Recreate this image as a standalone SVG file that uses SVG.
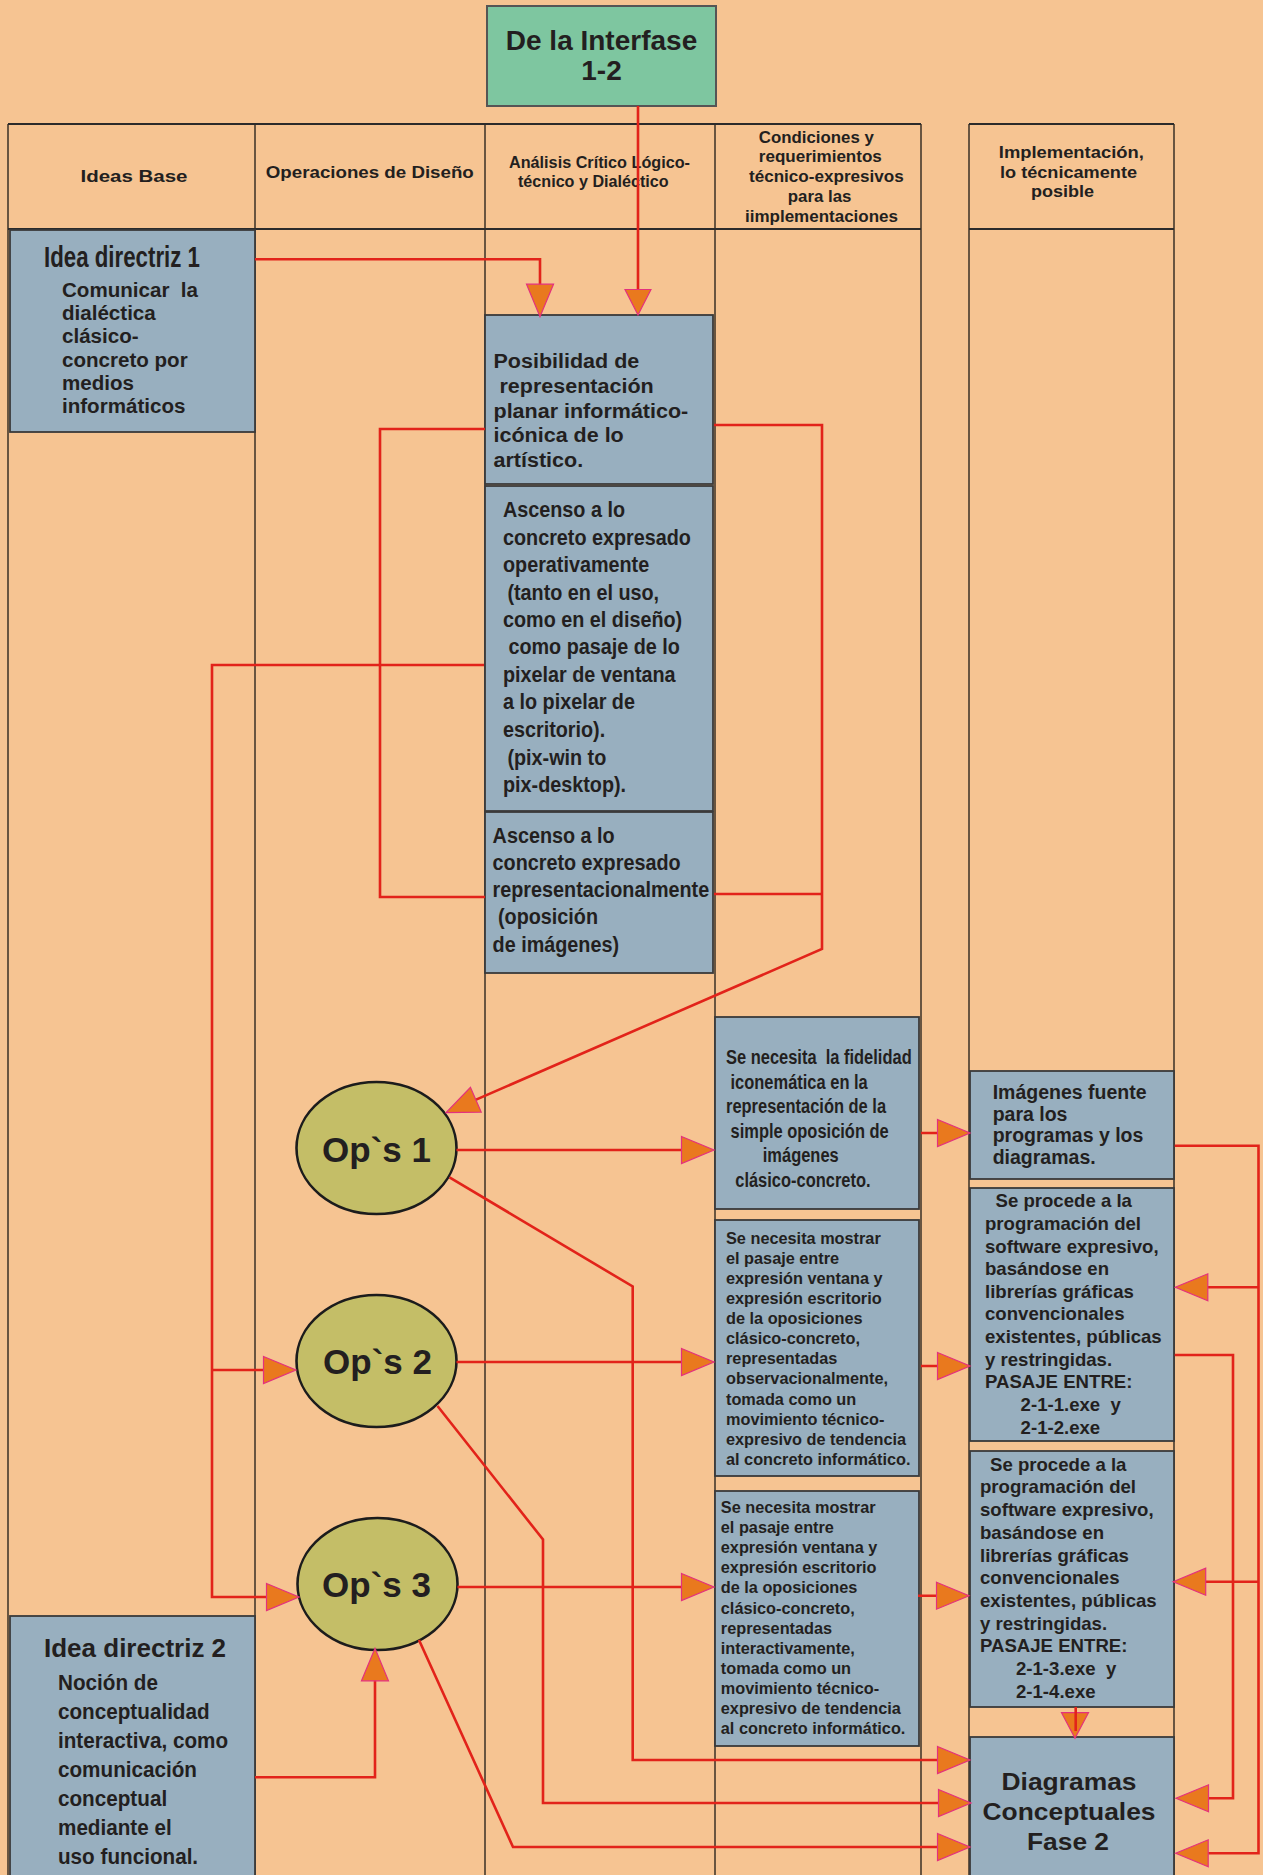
<svg xmlns="http://www.w3.org/2000/svg" width="1263" height="1875" viewBox="0 0 1263 1875">
  <style>
    text { font-family: "Liberation Sans", Arial, "Noto Sans", sans-serif; font-weight: bold; fill: #231F20; }
    .col { stroke: #3b3026; stroke-width: 1.5; fill: none; }
    .hdr { stroke: #2b2b2b; stroke-width: 2; fill: none; }
    .box { fill: #98AFBF; stroke: #3a3a3a; stroke-width: 1.8; }
    .top { fill: #7EC6A0; stroke: #555; stroke-width: 2; }
    .op { fill: #C4BE67; stroke: #1c1c1c; stroke-width: 2.6; }
    .ln { fill: none; stroke: #E2231A; stroke-width: 2.6; }
    .head { font-size: 16px; }
    .t20 { font-size: 20.5px; }
    .t22 { font-size: 22px; }
    .t196 { font-size: 19.6px; }
    .t163 { font-size: 16.3px; }
    .t186 { font-size: 18.6px; }
    .ops { font-size: 35px; text-anchor: middle; }
  </style>
  <defs>
    <marker id="ah" markerUnits="userSpaceOnUse" markerWidth="40" markerHeight="32" refX="29" refY="14" orient="auto" overflow="visible">
      <path d="M0.5,0.5 L33,14 L0.5,27.5 Z" fill="#E9791E" stroke="#E4307E" stroke-width="1.2"/>
    </marker>
    <marker id="ahS" markerUnits="userSpaceOnUse" markerWidth="32" markerHeight="32" refX="22" refY="13.5" orient="auto" overflow="visible">
      <path d="M0.5,0.5 L26,13.5 L0.5,26.5 Z" fill="#E9791E" stroke="#E4307E" stroke-width="1.2"/>
    </marker>
  </defs>

  <!-- background -->
  <rect x="0" y="0" width="1263" height="1875" fill="#F6C492"/>

  <!-- swimlane grid -->
  <g id="lanes">
    <path class="col" d="M8,124 V1875 M255,124 V1875 M485,124 V1875 M715,124 V1875 M921,124 V1875"/>
    <path class="col" d="M969,124 V1875 M1174,124 V1875"/>
    <path class="hdr" d="M8,124 H921 M8,229 H921 M969,124 H1174 M969,229 H1174"/>
    <text class="head" x="80.5" y="181.7" font-size="18" textLength="107" lengthAdjust="spacingAndGlyphs">Ideas Base</text>
    <text class="head" x="265.8" y="177.5" font-size="18" textLength="208" lengthAdjust="spacingAndGlyphs">Operaciones de Diseño</text>
    <text class="head" x="509" y="167.7" textLength="181" lengthAdjust="spacingAndGlyphs">Análisis Crítico Lógico-</text>
    <text class="head" x="518" y="186.7" textLength="150.6" lengthAdjust="spacingAndGlyphs">técnico y Dialéctico</text>
    <text class="head" x="758.8" y="143.3" textLength="115" lengthAdjust="spacingAndGlyphs">Condiciones y</text>
    <text class="head" x="758.8" y="162" textLength="123" lengthAdjust="spacingAndGlyphs">requerimientos</text>
    <text class="head" x="749" y="181.7" textLength="154.7" lengthAdjust="spacingAndGlyphs">técnico-expresivos</text>
    <text class="head" x="787.8" y="201.7" textLength="63.6" lengthAdjust="spacingAndGlyphs">para las</text>
    <text class="head" x="745" y="221.7" textLength="153" lengthAdjust="spacingAndGlyphs">iimplementaciones</text>
    <text class="head" x="998.8" y="157.7" textLength="145" lengthAdjust="spacingAndGlyphs">Implementación,</text>
    <text class="head" x="1000" y="177.7" textLength="137" lengthAdjust="spacingAndGlyphs">lo técnicamente</text>
    <text class="head" x="1031" y="196.7" textLength="63" lengthAdjust="spacingAndGlyphs">posible</text>
  </g>

  <!-- nodes -->
  <g id="interfase">
    <rect class="top" x="487" y="6" width="229" height="100"/>
    <text x="601.5" y="50" font-size="28" text-anchor="middle">De la Interfase</text>
    <text x="601.5" y="80" font-size="28" text-anchor="middle">1-2</text>
  </g>

  <g id="idea1">
    <rect class="box" x="10" y="230" width="245" height="202"/>
    <text x="44" y="266.7" font-size="30" textLength="156" lengthAdjust="spacingAndGlyphs">Idea directriz 1</text>
    <g transform="matrix(1.05 0 0 1 -3.1 0)">
      <text class="t196">
        <tspan x="62" y="297.3">Comunicar&#160; la</tspan>
        <tspan x="62" y="320.4">dialéctica</tspan>
        <tspan x="62" y="343.5">clásico-</tspan>
        <tspan x="62" y="366.6">concreto por</tspan>
        <tspan x="62" y="389.7">medios</tspan>
        <tspan x="62" y="412.8">informáticos</tspan>
      </text>
    </g>
  </g>

  <g id="posibilidad">
    <rect class="box" x="485" y="315" width="228" height="169"/>
    <g transform="matrix(1.05 0 0 1 -24.675 0)">
      <text class="t20">
        <tspan x="493.5" y="368.3">Posibilidad de</tspan>
        <tspan x="499.2" y="393">representación</tspan>
        <tspan x="493.5" y="417.7">planar informático-</tspan>
        <tspan x="493.5" y="442.3">icónica de lo</tspan>
        <tspan x="493.5" y="467">artístico.</tspan>
      </text>
    </g>
  </g>

  <g id="ascenso-operativo">
    <rect class="box" x="485" y="486" width="228" height="325"/>
    <g transform="matrix(0.9 0 0 1 50.3 0)">
      <text class="t22">
        <tspan x="503" y="517.3">Ascenso a lo</tspan>
        <tspan x="503" y="545">concreto expresado</tspan>
        <tspan x="503" y="572.2">operativamente</tspan>
        <tspan x="507.9" y="599.7">(tanto en el uso,</tspan>
        <tspan x="503" y="626.7">como en el diseño)</tspan>
        <tspan x="509" y="654.3">como pasaje de lo</tspan>
        <tspan x="503" y="682">pixelar de ventana</tspan>
        <tspan x="503" y="709.3">a lo pixelar de</tspan>
        <tspan x="503" y="737">escritorio).</tspan>
        <tspan x="507.9" y="764.7">(pix-win to</tspan>
        <tspan x="503" y="792">pix-desktop).</tspan>
      </text>
    </g>
  </g>

  <g id="ascenso-representacional">
    <rect class="box" x="485" y="812" width="228" height="161"/>
    <g transform="matrix(0.9 0 0 1 49.26 0)">
      <text class="t22">
        <tspan x="492.6" y="842.7">Ascenso a lo</tspan>
        <tspan x="492.6" y="870">concreto expresado</tspan>
        <tspan x="492.6" y="896.7">representacionalmente</tspan>
        <tspan x="498.6" y="924.3">(oposición</tspan>
        <tspan x="492.6" y="951.7">de imágenes)</tspan>
      </text>
    </g>
  </g>

  <g id="ops1">
    <ellipse class="op" cx="376.5" cy="1148" rx="80" ry="66"/>
    <text class="ops" x="376.5" y="1162">Op`s 1</text>
  </g>
  <g id="ops2">
    <ellipse class="op" cx="376.5" cy="1361" rx="80" ry="66"/>
    <text class="ops" x="377.5" y="1374">Op`s 2</text>
  </g>
  <g id="ops3">
    <ellipse class="op" cx="377.5" cy="1584" rx="80" ry="66"/>
    <text class="ops" x="376.5" y="1597">Op`s 3</text>
  </g>

  <g id="fidelidad">
    <rect class="box" x="715" y="1017" width="204" height="192"/>
    <g transform="matrix(0.84 0 0 1 116.16 0)">
      <text class="t196">
        <tspan x="726" y="1064">Se necesita&#160; la fidelidad</tspan>
        <tspan x="731.4" y="1088.7">iconemática en la</tspan>
        <tspan x="726" y="1113.3">representación de la</tspan>
        <tspan x="731.4" y="1137.7">simple oposición de</tspan>
        <tspan x="769.8" y="1162.3">imágenes</tspan>
        <tspan x="737" y="1186.7">clásico-concreto.</tspan>
      </text>
    </g>
  </g>

  <g id="pasaje-observacional">
    <rect class="box" x="715" y="1220" width="204" height="256"/>
    <text class="t163">
      <tspan x="726" y="1244">Se necesita mostrar</tspan>
      <tspan x="726" y="1264">el pasaje entre</tspan>
      <tspan x="726" y="1284.1">expresión ventana y</tspan>
      <tspan x="726" y="1304.2">expresión escritorio</tspan>
      <tspan x="726" y="1324.2">de la oposiciones</tspan>
      <tspan x="726" y="1344.3">clásico-concreto,</tspan>
      <tspan x="726" y="1364.4">representadas</tspan>
      <tspan x="726" y="1384.4">observacionalmente,</tspan>
      <tspan x="726" y="1404.5">tomada como un</tspan>
      <tspan x="726" y="1424.5">movimiento técnico-</tspan>
      <tspan x="726" y="1444.6">expresivo de tendencia</tspan>
      <tspan x="726" y="1464.7">al concreto informático.</tspan>
    </text>
  </g>

  <g id="pasaje-interactivo">
    <rect class="box" x="715" y="1491" width="204" height="255"/>
    <text class="t163">
      <tspan x="720.8" y="1512.7">Se necesita mostrar</tspan>
      <tspan x="720.8" y="1532.9">el pasaje entre</tspan>
      <tspan x="720.8" y="1553">expresión ventana y</tspan>
      <tspan x="720.8" y="1573.2">expresión escritorio</tspan>
      <tspan x="720.8" y="1593.3">de la oposiciones</tspan>
      <tspan x="720.8" y="1613.5">clásico-concreto,</tspan>
      <tspan x="720.8" y="1633.6">representadas</tspan>
      <tspan x="720.8" y="1653.8">interactivamente,</tspan>
      <tspan x="720.8" y="1673.9">tomada como un</tspan>
      <tspan x="720.8" y="1694.1">movimiento técnico-</tspan>
      <tspan x="720.8" y="1714.2">expresivo de tendencia</tspan>
      <tspan x="720.8" y="1734.4">al concreto informático.</tspan>
    </text>
  </g>

  <g id="imagenes-fuente">
    <rect class="box" x="970" y="1071" width="204" height="108"/>
    <text font-size="19.5">
      <tspan x="992.7" y="1099">Imágenes fuente</tspan>
      <tspan x="992.7" y="1120.7">para los</tspan>
      <tspan x="992.7" y="1142.4">programas y los</tspan>
      <tspan x="992.7" y="1164">diagramas.</tspan>
    </text>
  </g>

  <g id="programacion-1">
    <rect class="box" x="970" y="1188" width="204" height="253"/>
    <text class="t186">
      <tspan x="995.5" y="1207.3">Se procede a la</tspan>
      <tspan x="985" y="1230">programación del</tspan>
      <tspan x="985" y="1252.6">software expresivo,</tspan>
      <tspan x="985" y="1275.2">basándose en</tspan>
      <tspan x="985" y="1297.8">librerías gráficas</tspan>
      <tspan x="985" y="1320.4">convencionales</tspan>
      <tspan x="985" y="1343">existentes, públicas</tspan>
      <tspan x="985" y="1365.6">y restringidas.</tspan>
      <tspan x="985" y="1388.2">PASAJE ENTRE:</tspan>
      <tspan x="1020.6" y="1411">2-1-1.exe&#160; y</tspan>
      <tspan x="1020.6" y="1433.5">2-1-2.exe</tspan>
    </text>
  </g>

  <g id="programacion-2">
    <rect class="box" x="970" y="1451" width="204" height="256"/>
    <text class="t186">
      <tspan x="990" y="1470.7">Se procede a la</tspan>
      <tspan x="980" y="1493.4">programación del</tspan>
      <tspan x="980" y="1516.1">software expresivo,</tspan>
      <tspan x="980" y="1538.8">basándose en</tspan>
      <tspan x="980" y="1561.5">librerías gráficas</tspan>
      <tspan x="980" y="1584.2">convencionales</tspan>
      <tspan x="980" y="1606.9">existentes, públicas</tspan>
      <tspan x="980" y="1629.6">y restringidas.</tspan>
      <tspan x="980" y="1652.3">PASAJE ENTRE:</tspan>
      <tspan x="1016" y="1675">2-1-3.exe&#160; y</tspan>
      <tspan x="1016" y="1697.7">2-1-4.exe</tspan>
    </text>
  </g>

  <g id="diagramas">
    <rect class="box" x="970" y="1737" width="204" height="150"/>
    <text x="1069" y="1790" font-size="24" text-anchor="middle" textLength="135" lengthAdjust="spacingAndGlyphs">Diagramas</text>
    <text x="1069" y="1820" font-size="24" text-anchor="middle" textLength="173" lengthAdjust="spacingAndGlyphs">Conceptuales</text>
    <text x="1068" y="1850" font-size="24" text-anchor="middle" textLength="82" lengthAdjust="spacingAndGlyphs">Fase 2</text>
  </g>

  <g id="idea2">
    <rect class="box" x="10" y="1616" width="245" height="270"/>
    <text x="44" y="1657" font-size="26">Idea directriz 2</text>
    <g transform="matrix(0.94 0 0 1 3.48 0)">
      <text class="t22">
        <tspan x="58" y="1690">Noción de</tspan>
        <tspan x="58" y="1719">conceptualidad</tspan>
        <tspan x="58" y="1748">interactiva, como</tspan>
        <tspan x="58" y="1777">comunicación</tspan>
        <tspan x="58" y="1806">conceptual</tspan>
        <tspan x="58" y="1835">mediante el</tspan>
        <tspan x="58" y="1864">uso funcional.</tspan>
      </text>
    </g>
  </g>

  <!-- connectors -->
  <g id="connectors">
    <path class="ln" d="M255,259.3 H540 V312.7" marker-end="url(#ah)"/>
    <path class="ln" d="M638,106 V311" marker-end="url(#ahS)"/>
    <path class="ln" d="M485,429 H380 V897 H485"/>
    <path class="ln" d="M484,665 H212 V1597 H295" marker-end="url(#ah)"/>
    <path class="ln" d="M212,1370 H292" marker-end="url(#ah)"/>
    <path class="ln" d="M714,425 H822 V949 L449.7,1111.1" marker-end="url(#ah)"/>
    <path class="ln" d="M714,894 H822"/>
    <path class="ln" d="M456.5,1150 H710" marker-end="url(#ah)"/>
    <path class="ln" d="M456.5,1362 H710" marker-end="url(#ah)"/>
    <path class="ln" d="M457.5,1587 H710" marker-end="url(#ah)"/>
    <path class="ln" d="M449.5,1177.3 L632.7,1286.5 V1760 H966" marker-end="url(#ah)"/>
    <path class="ln" d="M437.5,1406 L543,1539.5 V1803 H967" marker-end="url(#ah)"/>
    <path class="ln" d="M419,1640 L513,1847 H966" marker-end="url(#ah)"/>
    <path class="ln" d="M255,1777.3 H375 V1652.3" marker-end="url(#ah)"/>
    <path class="ln" d="M921,1133 H966" marker-end="url(#ah)"/>
    <path class="ln" d="M921,1366 H966" marker-end="url(#ah)"/>
    <path class="ln" d="M918,1595.7 H965" marker-end="url(#ah)"/>
    <path class="ln" d="M1174.7,1145.7 H1258.5 V1853.3 H1179.7" marker-end="url(#ah)"/>
    <path class="ln" d="M1258.5,1287.3 H1179.3" marker-end="url(#ah)"/>
    <path class="ln" d="M1258.5,1581.7 H1177.2" marker-end="url(#ah)"/>
    <path class="ln" d="M1174.7,1355 H1233 V1798.3 H1180" marker-end="url(#ah)"/>
    <polygon points="1061.5,1712.7 1088.5,1712.7 1075,1738.3" fill="#E9791E" stroke="#E4307E" stroke-width="1.2"/>
    <path class="ln" d="M1075.7,1707 V1731"/>
  </g>
</svg>
